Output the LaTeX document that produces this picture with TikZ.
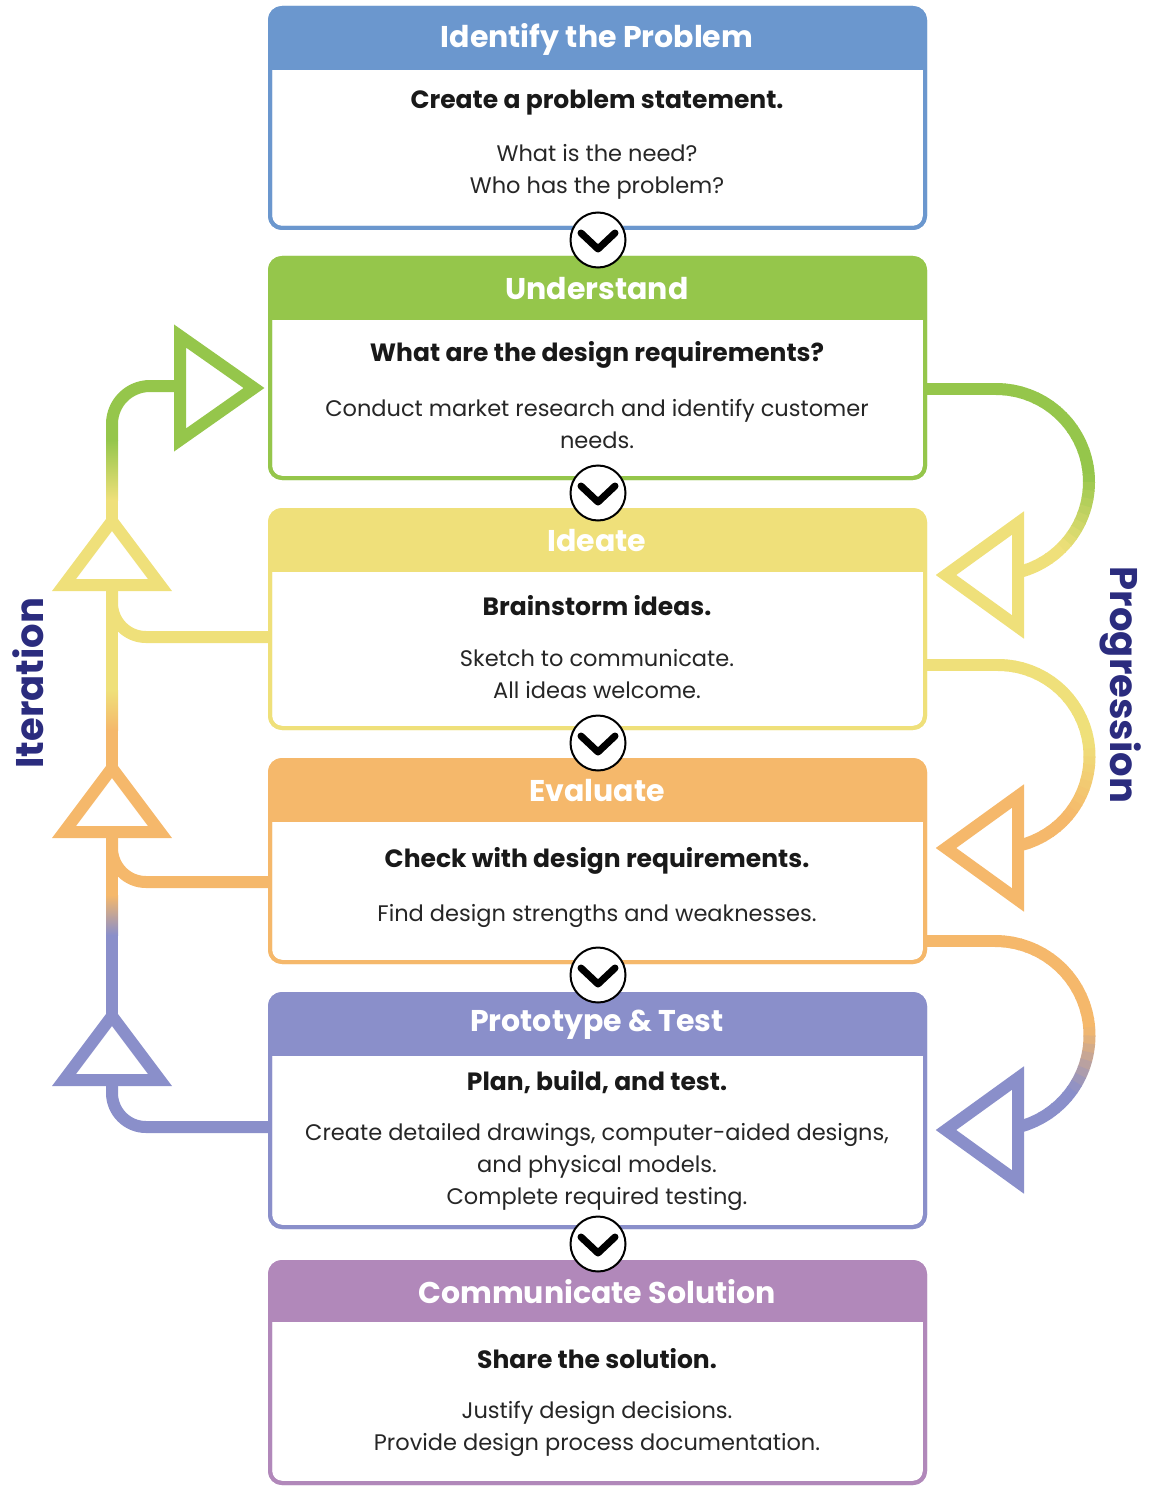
\documentclass[tikz,border=0pt]{standalone}
\usepackage{fontspec}
\setmainfont{Poppins}
\usetikzlibrary{fit,calc}
\definecolor{cblue}{HTML}{6B97CE}
\definecolor{cgreen}{HTML}{95C64B}
\definecolor{cyellow}{HTML}{EFE07A}
\definecolor{corange}{HTML}{F5B86B}
\definecolor{cpurple}{HTML}{8A8FCA}
\definecolor{cviolet}{HTML}{B188BA}
\definecolor{cnavy}{HTML}{2B2C7E}
\tikzset{
  stagebox/.style={draw=#1, line width=4pt, fill=white, rounded corners=12pt, inner sep=0pt, outer sep=0pt},
  headtext/.style={text=white, font=\fontsize{30}{33}\selectfont\bfseries},
  subtext/.style={font=\fontsize{25}{28}\selectfont\bfseries, text=black!90},
  bodytext/.style={font=\fontsize{22.5}{32}\selectfont, text=black!85, align=center},
  flow/.style={line width=12pt},
  headarrow/.style={line width=12pt, fill=white, line join=miter},
  chev/.style={circle, draw=black, line width=2pt, fill=white, minimum size=55pt, inner sep=0pt},
  sidetext/.style={text=cnavy, font=\fontsize{38.5}{42}\selectfont\bfseries},
}
\newcommand\drawstage[6]{%
  \node[stagebox=#2, fit={(270,#3) (925,#5)}] (#1) {};
  \begin{scope}
    \clip[rounded corners=12pt] (#1.north west) rectangle (#1.south east);
    \fill[#2] (#1.north west) rectangle (925,#4);
  \end{scope}
  \draw[#2, line width=4pt, rounded corners=12pt] (#1.north west) rectangle (#1.south east);
  \node[headtext] (#1-t) at (597,{(#3+#4)/2}) {#6};
}
\newcommand\gradarc[7]{% cx, cy, r, colA, colB, t0, t1
  \foreach \i in {0,...,35}{
    \pgfmathsetmacro\aa{-90+5*\i}
    \pgfmathsetmacro\ab{min(90,-90+5*\i+5.6)}
    \pgfmathsetmacro\am{-90+5*\i+2.5}
    \pgfmathtruncatemacro\mixp{min(100,max(0,(\am-#6)/(#7-#6)*100))}
    \draw[flow, #5!\mixp!#4] ({#1+#3*cos(\aa)},{#2+#3*sin(\aa)}) arc[start angle=\aa, end angle=\ab, radius=#3];
  }%
}
\newcommand\uphead[3]{% colour, base y, tip y
  \draw[headarrow, draw=#1] (64,#2) -- (160,#2) -- (112,#3) -- cycle;
}
\newcommand\lefthead[2]{% colour, centre y
  \draw[headarrow, draw=#1] (1018,{#2-52}) -- (1018,{#2+52}) -- (946,#2) -- cycle;
}
\begin{document}
\begin{tikzpicture}[x=1pt,y=-1pt]
\useasboundingbox (0,0) rectangle (1148,1487);

% ---------- stages ----------
\drawstage{s1}{cblue}{8}{70}{228}{Identify the Problem}
\drawstage{s2}{cgreen}{258}{320}{478}{Understand}
\drawstage{s3}{cyellow}{510}{572}{728}{Ideate}
\drawstage{s4}{corange}{760}{822}{962}{Evaluate}
\drawstage{s5}{cpurple}{994}{1056}{1227}{Prototype \& Test}
\drawstage{s6}{cviolet}{1262}{1322}{1483}{Communicate Solution}

\node[subtext] (s1-a) at (597,103) {Create a problem statement.};
\node[bodytext] (s1-b) at (597,172) {What is the need?\\Who has the problem?};
\node[subtext] (s2-a) at (597,355) {What are the design requirements?};
\node[bodytext] (s2-b) at (597,424) {Conduct market research and identify customer\\needs.};
\node[subtext] (s3-a) at (597,606) {Brainstorm ideas.};
\node[bodytext] (s3-b) at (597,674) {Sketch to communicate.\\All ideas welcome.};
\node[subtext] (s4-a) at (597,861) {Check with design requirements.};
\node[bodytext] (s4-b) at (597,916) {Find design strengths and weaknesses.};
\node[subtext] (s5-a) at (597,1082) {Plan, build, and test.};
\node[bodytext] (s5-b) at (597,1167) {Create detailed drawings, computer-aided designs,\\and physical models.\\Complete required testing.};
\node[subtext] (s6-a) at (597,1359) {Share the solution.};
\node[bodytext] (s6-b) at (597,1429) {Justify design decisions.\\Provide design process documentation.};

% ---------- connection points ----------
\coordinate (r2) at (925,389);
\coordinate (r3) at (925,665);
\coordinate (r4) at (925,941);
\coordinate (l3) at (270,637);
\coordinate (l4) at (270,882);
\coordinate (l5) at (270,1127);

% ---------- progression (right) ----------
\draw[flow, cgreen] (r2) -- (996,389);
\gradarc{996}{482}{93}{cgreen}{cyellow}{-5}{45}
\draw[flow, cyellow] (996,575) -- (1018,575);
\lefthead{cyellow}{575}

\draw[flow, cyellow] (r3) -- (998,665);
\gradarc{998}{756.5}{91.5}{cyellow}{corange}{-10}{40}
\draw[flow, corange] (998,848) -- (1018,848);
\lefthead{corange}{848}

\draw[flow, corange] (r4) -- (995,941);
\gradarc{995}{1035.5}{94.5}{corange}{cpurple}{-5}{35}
\draw[flow, cpurple] (995,1130) -- (1018,1130);
\lefthead{cpurple}{1130}

% ---------- iteration (left) ----------
\draw[flow, cpurple] (l5) -- (146,1127) arc[start angle=90, end angle=180, radius=34] -- (112,1080);
\draw[flow, corange] (l4) -- (146,882) arc[start angle=90, end angle=180, radius=34] -- (112,832);
\draw[flow, cyellow] (l3) -- (146,637) arc[start angle=90, end angle=180, radius=34] -- (112,585);

\fill[cpurple] (106,1016) rectangle (118,935);
\shade[top color=corange, bottom color=cpurple] (106,935) rectangle (118,895);
\fill[corange] (106,895) rectangle (118,832);

\fill[corange] (106,768) rectangle (118,730);
\shade[top color=cyellow, bottom color=corange] (106,730) rectangle (118,690);
\fill[cyellow] (106,690) rectangle (118,585);

\fill[cyellow] (106,521) rectangle (118,500);
\shade[top color=cgreen, bottom color=cyellow] (106,500) rectangle (118,440);
\draw[flow, cgreen] (112,440.5) -- (112,424) arc[start angle=180, end angle=270, radius=38] -- (180,386);

\uphead{cpurple}{1080}{1016}
\uphead{corange}{832}{768}
\uphead{cyellow}{585}{521}
\draw[headarrow, draw=cgreen] (180,336) -- (180,440) -- (254,388) -- cycle;

% ---------- side labels ----------
\node[sidetext, rotate=90] (iter) at (28,683) {Iteration};
\node[sidetext, rotate=-90] (prog) at (1121,685) {Progression};

% ---------- chevrons ----------
\foreach \n/\yy in {c1/240, c2/493, c3/743, c4/975, c5/1244}{
  \node[chev] (\n) at (598,\yy) {};
  \draw[line width=7pt, line cap=round, line join=round] ($(\n)+(-17,-7)$) -- ($(\n)+(0,9)$) -- ($(\n)+(17,-7)$);
}
\end{tikzpicture}
\end{document}
